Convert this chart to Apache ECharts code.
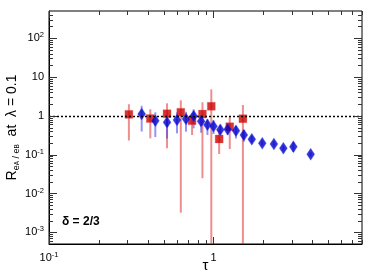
<!DOCTYPE html>
<html>
<head>
<meta charset="utf-8">
<script src="https://cdn.jsdelivr.net/npm/echarts@6/dist/echarts.min.js"></script>
<style>html,body{margin:0;padding:0;background:#fff;}#c{width:382px;height:274px;}</style>
</head>
<body>
<div id="c"></div>
<script>
// ---- data ----
const redTau  = [0.306, 0.413, 0.522, 0.633, 0.741, 0.857, 0.97, 1.083, 1.256, 1.51];
const redVal  = [1.09, 0.852, 1.13, 1.23, 0.748, 1.11, 1.76, 0.253, 0.524, 0.842];
const redHigh = [1.99, 1.47, 2.10, 2.51, 1.18, 2.23, 4.81, 0.431, 0.93, 1.90];
const redLow  = [0.231, 0.263, 0.146, 0.0032, 0.32, 0.0246, 0.0001, 0.104, 0.14, 0.0001];

const blueTau  = [0.366, 0.443, 0.522, 0.60, 0.681, 0.758, 0.841, 0.919, 1.0, 1.10, 1.22, 1.37, 1.53, 1.71, 1.98, 2.33, 2.66, 3.06, 3.90];
const blueVal  = [1.11, 0.743, 0.68, 0.78, 0.827, 0.99, 0.722, 0.59, 0.537, 0.438, 0.449, 0.411, 0.32, 0.248, 0.196, 0.188, 0.146, 0.159, 0.102];
const blueHigh = [1.81, 1.23, 1.0, 1.23, 1.27, 1.47, 1.05, 0.81, 0.78, 0.58, 0.64, 0.546, 0.43, 0.30, 0.23, 0.22, 0.17, 0.215, 0.115];
const blueLow  = [0.394, 0.284, 0.26, 0.354, 0.39, 0.477, 0.367, 0.32, 0.34, 0.32, 0.32, 0.26, 0.215, 0.205, 0.17, 0.165, 0.125, 0.118, 0.09];

const xMin = 0.1, xMax = 8, yMin = 5e-4, yMax = 500;
const xMajorTicks = [0.1, 1];
const xMinorTicks = [0.2, 0.3, 0.4, 0.5, 0.6, 0.7, 0.8, 0.9, 2, 3, 4, 5, 6, 7, 8];
const yMajorTicks = [1e-3, 1e-2, 1e-1, 1, 10, 100];
const yMinorMult = [2, 3, 4, 5, 6, 7, 8, 9];
const deltaLabel = 'δ = 2/3';
const refLine = 1;

// ---- build ----
const yMinorTicks = [];
[1e-4, 1e-3, 1e-2, 1e-1, 1, 10, 100].forEach(d => yMinorMult.forEach(m => {
  const v = +(d * m).toPrecision(3);
  if (v > yMin && v < yMax) yMinorTicks.push(v);
}));

function powLabel(v) {
  const l = Math.log10(v), e = Math.round(l);
  if (Math.abs(l - e) > 1e-6) return '';
  if (e === 0) return '{b|1}';
  if (e === 1) return '{b|10}';
  return '{b|10}{s|' + e + '}';
}
const richLab = {
  b: { fontSize: 11, fontFamily: 'Liberation Sans', color: '#000', lineHeight: 14 },
  s: { fontSize: 7.5, fontFamily: 'Liberation Sans', color: '#000', verticalAlign: 'top', lineHeight: 14 }
};

function tickSeries(vals, isX, major) {
  return {
    type: 'custom', silent: true, z: 5,
    data: vals.map(v => isX ? [v, yMin] : [xMin, v]),
    renderItem: function (params, api) {
      const cs = params.coordSys;
      const p = api.coord([api.value(0), api.value(1)]);
      const len = isX ? (major ? 7 : 4) : (major ? 8 : 4);
      const st = { stroke: '#333', lineWidth: 1 };
      if (isX) {
        const x = Math.round(p[0]) + 0.5;
        return { type: 'group', children: [
          { type: 'line', shape: { x1: x, y1: cs.y + cs.height, x2: x, y2: cs.y + cs.height - len }, style: st },
          { type: 'line', shape: { x1: x, y1: cs.y, x2: x, y2: cs.y + len }, style: st }
        ]};
      } else {
        const y = Math.round(p[1]) + 0.5;
        return { type: 'group', children: [
          { type: 'line', shape: { x1: cs.x, y1: y, x2: cs.x + len, y2: y }, style: st },
          { type: 'line', shape: { x1: cs.x + cs.width, y1: y, x2: cs.x + cs.width - len, y2: y }, style: st }
        ]};
      }
    }
  };
}

function errSeries(tau, lo, hi, color, width) {
  return {
    type: 'custom', silent: true, z: 2, clip: true,
    data: tau.map((t, i) => [t, lo[i], hi[i]]),
    encode: { x: 0, y: [1, 2] },
    renderItem: function (params, api) {
      const t = api.value(0);
      const l = Math.max(api.value(1), yMin * 0.5);
      const h = api.value(2);
      const p1 = api.coord([t, h]), p2 = api.coord([t, l]);
      return { type: 'line', shape: { x1: p1[0], y1: p1[1], x2: p2[0], y2: p2[1] },
               style: { stroke: color, lineWidth: width } };
    }
  };
}

const chart = echarts.init(document.getElementById('c'), null, { renderer: 'canvas' });
chart.setOption({
  animation: false,
  backgroundColor: '#fff',
  grid: { left: 49, right: 20, top: 11, bottom: 30, show: true, borderColor: '#000', borderWidth: 1,
          containLabel: false, outerBoundsMode: 'none' },
  xAxis: {
    type: 'log', logBase: 10, min: xMin, max: xMax,
    name: 'τ', nameLocation: 'middle', nameGap: 14, nameMoveOverlap: false,
    nameTextStyle: { fontSize: 15, fontFamily: 'Liberation Sans', color: '#000', verticalAlign: 'top' },
    axisLine: { show: true, lineStyle: { color: '#000', width: 1 } },
    axisTick: { show: false }, splitLine: { show: false }, minorTick: { show: false },
    axisLabel: { formatter: powLabel, rich: richLab, margin: 7, showMinLabel: true, showMaxLabel: true }
  },
  yAxis: {
    type: 'log', logBase: 10, min: yMin, max: yMax,
    name: '{r|R}{s|e}{ss|A}{s| / e}{ss|B}{r|  at  λ = 0.1}', nameLocation: 'middle', nameGap: 28, nameMoveOverlap: false,
    nameTextStyle: {
      rich: {
        r: { fontSize: 14, fontFamily: 'Liberation Sans', color: '#000', lineHeight: 18, verticalAlign: 'middle' },
        s: { fontSize: 9, fontFamily: 'Liberation Sans', color: '#000', lineHeight: 18, verticalAlign: 'bottom' },
        ss: { fontSize: 6.5, fontFamily: 'Liberation Sans', color: '#000', lineHeight: 18, verticalAlign: 'bottom' }
      }
    },
    axisLine: { show: true, lineStyle: { color: '#000', width: 1 } },
    axisTick: { show: false }, splitLine: { show: false }, minorTick: { show: false },
    axisLabel: { formatter: powLabel, rich: richLab, margin: 5 }
  },
  graphic: [{
    type: 'text', left: 62, top: 216, z: 10,
    style: { text: deltaLabel, fontSize: 12, fontWeight: 'bold', fontFamily: 'Liberation Sans', fill: '#000' }
  }],
  series: [
    tickSeries(xMajorTicks, true, true),
    tickSeries(xMinorTicks, true, false),
    tickSeries(yMajorTicks, false, true),
    tickSeries(yMinorTicks, false, false),
    errSeries(redTau, redLow, redHigh, 'rgba(225,50,50,0.55)', 2),
    {
      type: 'scatter', z: 3, symbol: 'rect', symbolSize: 8,
      itemStyle: { color: '#cc0000', borderColor: 'rgba(230,90,90,0.6)', borderWidth: 0.6 },
      data: redTau.map((t, i) => [t, redVal[i]]),
      markLine: {
        silent: true, symbol: 'none', label: { show: false },
        lineStyle: { color: '#000', type: [2, 2], width: 1.4 },
        data: [{ yAxis: refLine }]
      }
    },
    errSeries(blueTau, blueLow, blueHigh, 'rgba(60,60,240,0.55)', 2),
    {
      type: 'scatter', z: 4, symbol: 'diamond', symbolSize: [8, 12],
      itemStyle: { color: '#0000cc', borderColor: 'rgba(90,90,240,0.6)', borderWidth: 0.6 },
      data: blueTau.map((t, i) => [t, blueVal[i]])
    }
  ]
});
</script>
</body>
</html>
